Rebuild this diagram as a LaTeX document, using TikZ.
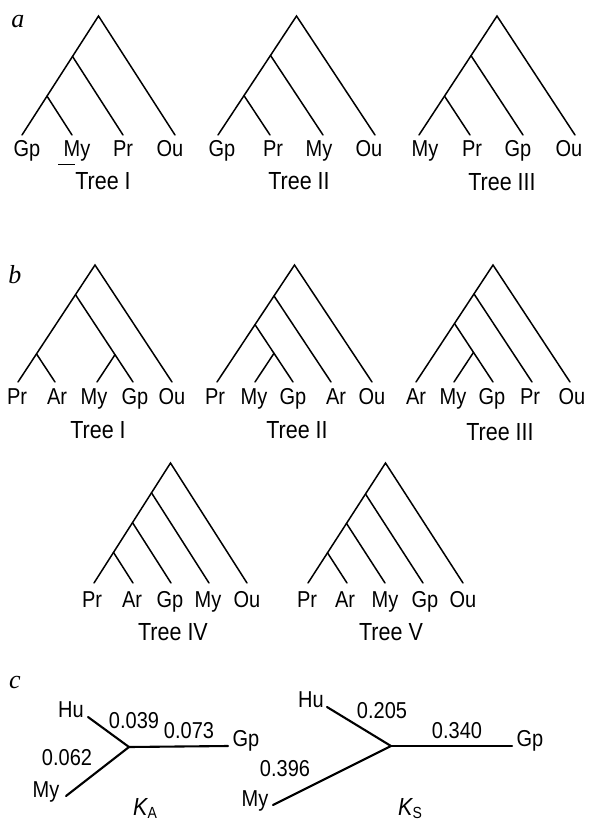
\documentclass[tikz,border=0pt]{standalone}
\usepackage{fontspec}
\setmainfont{Liberation Sans}
\newfontfamily\letterfont{Liberation Serif}
\begin{document}
\begin{tikzpicture}[x=1pt,y=-1pt,
  branch/.style={line width=1.5pt, line cap=round},
  edge/.style={line width=2.1pt, line cap=round},
  taxon/.style={anchor=base, inner sep=0pt, yscale=1.15, transform shape, font=\fontsize{20}{20}\selectfont},
  treename/.style={anchor=base, inner sep=0pt, yscale=1.15, transform shape, font=\fontsize{21.5}{21.5}\selectfont},
  length/.style={anchor=base, inner sep=0pt, yscale=1.15, transform shape, font=\fontsize{20}{20}\selectfont},
  panel/.style={anchor=base, inner sep=0pt, font=\letterfont\itshape\fontsize{26}{26}\selectfont}]
\useasboundingbox (0,0) rectangle (590,822);
\fill[white] (0,0) rectangle (590,822);

% ---------------- panel a ----------------
\node[panel] (pa) at (18,27) {a};

% Tree I: ((Gp,My),Pr),Ou
\coordinate (aIroot) at (98.5,16);
\coordinate (aIn2) at (72.5,56.4);
\coordinate (aIn1) at (47,96.1);
\coordinate (aIgp) at (22,135);
\coordinate (aImy) at (72,135);
\coordinate (aIpr) at (123,135);
\coordinate (aIou) at (175,135);
\draw[branch] (aIgp) -- (aIroot) -- (aIou);
\draw[branch] (aIn2) -- (aIpr);
\draw[branch] (aIn1) -- (aImy);
\node[taxon] (aIlgp) at (27,156) {Gp};
\node[taxon] (aIlmy) at (77,156) {My};
\node[taxon] (aIlpr) at (123,156) {Pr};
\node[taxon] (aIlou) at (170,156) {Ou};
\coordinate (ulA) at (58,164);
\coordinate (ulB) at (75,164);
\draw[line width=0.8pt] (ulA) -- (ulB);
\node[treename] (aIname) at (103,189) {Tree I};

% Tree II: ((Gp,Pr),My),Ou
\coordinate (aIIroot) at (296.5,16);
\coordinate (aIIn2) at (270.5,55.4);
\coordinate (aIIn1) at (244,95.6);
\coordinate (aIIgp) at (218,135);
\coordinate (aIIpr) at (270,135);
\coordinate (aIImy) at (323,135);
\coordinate (aIIou) at (375,135);
\draw[branch] (aIIgp) -- (aIIroot) -- (aIIou);
\draw[branch] (aIIn2) -- (aIImy);
\draw[branch] (aIIn1) -- (aIIpr);
\node[taxon] (aIIlgp) at (222,156) {Gp};
\node[taxon] (aIIlpr) at (273,156) {Pr};
\node[taxon] (aIIlmy) at (319,156) {My};
\node[taxon] (aIIlou) at (369,156) {Ou};
\node[treename] (aIIname) at (299,189) {Tree II};

% Tree III: ((My,Pr),Gp),Ou
\coordinate (aIIIroot) at (497,16);
\coordinate (aIIIn2) at (471,55.6);
\coordinate (aIIIn1) at (444.5,96.1);
\coordinate (aIIImy) at (419,135);
\coordinate (aIIIpr) at (470,135);
\coordinate (aIIIgp) at (523,135);
\coordinate (aIIIou) at (575,135);
\draw[branch] (aIIImy) -- (aIIIroot) -- (aIIIou);
\draw[branch] (aIIIn2) -- (aIIIgp);
\draw[branch] (aIIIn1) -- (aIIIpr);
\node[taxon] (aIIIlmy) at (425,156) {My};
\node[taxon] (aIIIlpr) at (472,156) {Pr};
\node[taxon] (aIIIlgp) at (518,156) {Gp};
\node[taxon] (aIIIlou) at (569,156) {Ou};
\node[treename] (aIIIname) at (502,190) {Tree III};

% ---------------- panel b ----------------
\node[panel] (pb) at (15,283) {b};

% Tree I: ((Pr,Ar),(My,Gp)),Ou
\coordinate (bIroot) at (95,265);
\coordinate (bIn3) at (75.5,294.7);
\coordinate (bIpa) at (36.5,353.9);
\coordinate (bImg) at (115,354.7);
\coordinate (bIpr) at (18,382);
\coordinate (bIar) at (55,382);
\coordinate (bImy) at (97,382);
\coordinate (bIgp) at (133,382);
\coordinate (bIou) at (172,382);
\draw[branch] (bIpr) -- (bIroot) -- (bIou);
\draw[branch] (bIn3) -- (bIgp);
\draw[branch] (bIpa) -- (bIar);
\draw[branch] (bImg) -- (bImy);
\node[taxon] (bIlpr) at (17,404) {Pr};
\node[taxon] (bIlar) at (57,404) {Ar};
\node[taxon] (bIlmy) at (94,404) {My};
\node[taxon] (bIlgp) at (135,404) {Gp};
\node[taxon] (bIlou) at (172,404) {Ou};
\node[treename] (bIname) at (98,438) {Tree I};

% Tree II: ((Pr,(My,Gp)),Ar),Ou
\coordinate (bIIroot) at (294.5,265);
\coordinate (bIIn3) at (274,295.9);
\coordinate (bIIn2) at (255,324.6);
\coordinate (bIImg) at (274,353.3);
\coordinate (bIIpr) at (217,382);
\coordinate (bIImy) at (255,382);
\coordinate (bIIgp) at (293,382);
\coordinate (bIIar) at (331,382);
\coordinate (bIIou) at (372,382);
\draw[branch] (bIIpr) -- (bIIroot) -- (bIIou);
\draw[branch] (bIIn3) -- (bIIar);
\draw[branch] (bIIn2) -- (bIIgp);
\draw[branch] (bIImg) -- (bIImy);
\node[taxon] (bIIlpr) at (215,404) {Pr};
\node[taxon] (bIIlmy) at (254,404) {My};
\node[taxon] (bIIlgp) at (293,404) {Gp};
\node[taxon] (bIIlar) at (336,404) {Ar};
\node[taxon] (bIIlou) at (372,404) {Ou};
\node[treename] (bIIname) at (297,438) {Tree II};

% Tree III: ((Ar,(My,Gp)),Pr),Ou
\coordinate (bIIIroot) at (493,265);
\coordinate (bIIIn3) at (474,293.9);
\coordinate (bIIIn2) at (454.5,323.5);
\coordinate (bIIImg) at (473.5,352.4);
\coordinate (bIIIar) at (416,382);
\coordinate (bIIImy) at (454,382);
\coordinate (bIIIgp) at (493,382);
\coordinate (bIIIpr) at (532,382);
\coordinate (bIIIou) at (570,382);
\draw[branch] (bIIIar) -- (bIIIroot) -- (bIIIou);
\draw[branch] (bIIIn3) -- (bIIIpr);
\draw[branch] (bIIIn2) -- (bIIIgp);
\draw[branch] (bIIImg) -- (bIIImy);
\node[taxon] (bIIIlar) at (416,404) {Ar};
\node[taxon] (bIIIlmy) at (453,404) {My};
\node[taxon] (bIIIlgp) at (492,404) {Gp};
\node[taxon] (bIIIlpr) at (530,404) {Pr};
\node[taxon] (bIIIlou) at (572,404) {Ou};
\node[treename] (bIIIname) at (500,440) {Tree III};

% Tree IV: (((Pr,Ar),Gp),My),Ou
\coordinate (bIVroot) at (170.5,463);
\coordinate (bIVn3) at (151.5,492.8);
\coordinate (bIVn2) at (132.5,522.6);
\coordinate (bIVn1) at (113.5,552.4);
\coordinate (bIVpr) at (94,583);
\coordinate (bIVar) at (133,583);
\coordinate (bIVgp) at (171,583);
\coordinate (bIVmy) at (209,583);
\coordinate (bIVou) at (247,583);
\draw[branch] (bIVpr) -- (bIVroot) -- (bIVou);
\draw[branch] (bIVn3) -- (bIVmy);
\draw[branch] (bIVn2) -- (bIVgp);
\draw[branch] (bIVn1) -- (bIVar);
\node[taxon] (bIVlpr) at (92,607) {Pr};
\node[taxon] (bIVlar) at (132,607) {Ar};
\node[taxon] (bIVlgp) at (170,607) {Gp};
\node[taxon] (bIVlmy) at (208,607) {My};
\node[taxon] (bIVlou) at (247,607) {Ou};
\node[treename] (bIVname) at (173,640) {Tree IV};

% Tree V: (((Pr,Ar),My),Gp),Ou
\coordinate (bVroot) at (385.5,463);
\coordinate (bVn3) at (365.5,494);
\coordinate (bVn2) at (346.5,523.4);
\coordinate (bVn1) at (327.5,552.8);
\coordinate (bVpr) at (308,583);
\coordinate (bVar) at (347,583);
\coordinate (bVmy) at (385,583);
\coordinate (bVgp) at (423,583);
\coordinate (bVou) at (463,583);
\draw[branch] (bVpr) -- (bVroot) -- (bVou);
\draw[branch] (bVn3) -- (bVgp);
\draw[branch] (bVn2) -- (bVmy);
\draw[branch] (bVn1) -- (bVar);
\node[taxon] (bVlpr) at (307,607) {Pr};
\node[taxon] (bVlar) at (345,607) {Ar};
\node[taxon] (bVlmy) at (385,607) {My};
\node[taxon] (bVlgp) at (425,607) {Gp};
\node[taxon] (bVlou) at (463,607) {Ou};
\node[treename] (bVname) at (391,640) {Tree V};

% ---------------- panel c ----------------
\node[panel] (pc) at (15,688) {c};

% unrooted tree, K_A distances
\coordinate (kaC) at (129,747);
\coordinate (kaHu) at (88,717);
\coordinate (kaGp) at (228,746);
\coordinate (kaMy) at (66,796);
\draw[edge] (kaHu) -- (kaC);
\draw[edge] (kaC) -- (kaGp);
\draw[edge] (kaMy) -- (kaC);
\node[taxon] (kaLhu) at (71,717) {Hu};
\node[taxon] (kaLgp) at (246,746) {Gp};
\node[taxon] (kaLmy) at (46,797) {My};
\node[length] (kaL1) at (134,728) {0.039};
\node[length] (kaL2) at (189,738) {0.073};
\node[length] (kaL3) at (67,765) {0.062};
\node[treename] (kaName) at (145,815) {\itshape K\raisebox{-0.3ex}{\upshape\fontsize{14}{14}\selectfont A}};

% unrooted tree, K_S distances
\coordinate (ksC) at (391,746);
\coordinate (ksHu) at (327,707);
\coordinate (ksGp) at (512,746);
\coordinate (ksMy) at (273,805);
\draw[edge] (ksHu) -- (ksC);
\draw[edge] (ksC) -- (ksGp);
\draw[edge] (ksMy) -- (ksC);
\node[taxon] (ksLhu) at (311,707) {Hu};
\node[taxon] (ksLgp) at (530,746) {Gp};
\node[taxon] (ksLmy) at (255,806) {My};
\node[length] (ksL1) at (382,718) {0.205};
\node[length] (ksL2) at (457,738) {0.340};
\node[length] (ksL3) at (285,776) {0.396};
\node[treename] (ksName) at (410,815) {\itshape K\raisebox{-0.3ex}{\upshape\fontsize{14}{14}\selectfont S}};
\end{tikzpicture}
\end{document}
